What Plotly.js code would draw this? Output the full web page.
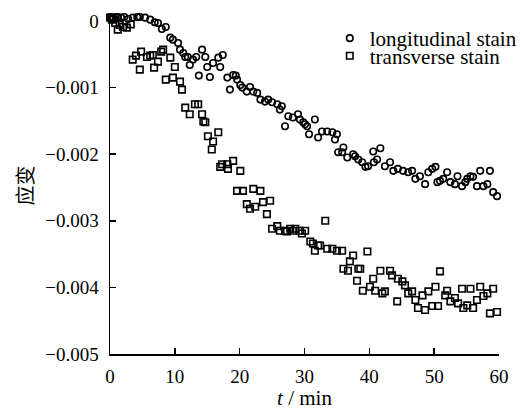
<!DOCTYPE html>
<html>
<head>
<meta charset="utf-8">
<script src="https://cdn.plot.ly/plotly-3.0.1.min.js"></script>
<style>html,body{margin:0;padding:0;background:#fff;}#chart{width:520px;height:410px;}</style>
</head>
<body>
<div id="chart"></div>
<script>
// longitudinal stain (circles)
const longT = [0.0,0.2,0.5,0.9,1.2,1.7,2.2,2.8,3.5,4.2,4.6,5.4,6.2,6.9,7.4,8.0,8.6,9.3,9.7,10.5,10.8,11.3,11.6,12.0,12.3,12.8,13.3,13.7,14.2,14.7,15.0,15.4,15.9,16.7,17.0,17.4,18.1,18.5,19.0,19.4,19.6,20.1,20.4,21.1,21.6,22.1,22.7,23.2,23.9,24.4,25.0,25.8,26.2,26.5,27.0,27.5,28.2,29.0,29.3,29.8,30.1,30.4,30.7,31.6,32.1,32.7,33.5,34.3,34.7,35.0,35.2,35.8,36.0,36.6,37.5,37.8,38.3,38.9,39.4,39.8,40.6,40.7,41.2,41.7,42.4,43.2,43.7,44.4,45.2,46.0,46.6,47.1,47.8,48.6,49.1,49.7,50.2,50.5,50.9,51.4,52.0,52.5,53.2,53.6,54.3,54.8,55.1,55.6,56.0,56.6,57.1,57.6,58.2,58.6,59.1,59.7];
const longV = [0.00006,0.00005,0.00005,0.00006,0.00006,0.00005,0.00006,0.00003,0.00005,0.00006,0.00006,0.00005,0.00002,-0.00002,-0.00003,-0.00012,-0.00009,-0.00025,-0.00028,-0.00033,-0.00043,-0.00048,-0.00054,-0.00054,-0.00066,-0.00058,-0.00054,-0.00082,-0.00043,-0.00054,-0.00069,-0.00084,-0.00063,-0.00055,-0.00069,-0.00051,-0.00085,-0.00103,-0.00081,-0.00082,-0.00088,-0.00096,-0.00100,-0.00106,-0.00099,-0.00106,-0.00108,-0.00118,-0.00121,-0.00118,-0.00122,-0.00125,-0.00133,-0.00128,-0.00158,-0.00143,-0.00145,-0.00140,-0.00148,-0.00152,-0.00155,-0.00158,-0.00170,-0.00148,-0.00175,-0.00166,-0.00166,-0.00167,-0.00178,-0.00170,-0.00197,-0.00197,-0.00190,-0.00205,-0.00200,-0.00203,-0.00208,-0.00212,-0.00219,-0.00218,-0.00196,-0.00212,-0.00208,-0.00191,-0.00218,-0.00212,-0.00225,-0.00222,-0.00225,-0.00227,-0.00225,-0.00237,-0.00233,-0.00245,-0.00227,-0.00222,-0.00219,-0.00242,-0.00240,-0.00237,-0.00227,-0.00242,-0.00245,-0.00233,-0.00248,-0.00242,-0.00237,-0.00233,-0.00234,-0.00248,-0.00225,-0.00248,-0.00245,-0.00225,-0.00257,-0.00263];
// transverse stain (squares)
const transT = [0.0,0.3,0.8,1.2,1.5,2.0,2.6,3.2,3.5,4.0,4.6,4.8,5.7,6.2,6.6,6.8,7.4,7.9,8.2,8.6,9.3,9.7,10.0,10.8,11.1,11.6,12.3,13.1,13.6,14.2,14.4,14.7,15.1,15.7,15.9,16.7,17.0,17.3,18.1,18.2,19.0,19.6,20.1,20.5,21.1,21.6,22.1,22.4,23.2,23.6,24.2,24.7,25.0,25.8,26.2,27.0,27.3,27.8,28.2,28.6,29.3,29.6,30.1,30.9,31.3,31.6,32.1,32.4,33.2,33.5,34.3,35.0,35.8,36.0,36.7,37.0,37.5,38.1,38.3,38.6,39.0,39.7,40.1,40.6,40.9,41.7,42.0,42.4,43.2,43.5,44.3,44.4,45.1,45.5,46.0,46.6,47.1,47.5,48.2,48.6,49.1,49.7,50.2,50.6,50.9,51.7,52.0,52.5,53.2,53.7,54.3,54.5,55.1,55.6,56.0,56.6,57.1,57.6,58.2,58.6,59.1,59.7];
const transV = [0.00005,0.00002,-0.00003,-0.00013,-0.00006,-0.00009,-0.00010,-0.00005,-0.00058,-0.00052,-0.00073,-0.00046,-0.00054,-0.00052,-0.00051,-0.00070,-0.00061,-0.00046,-0.00043,-0.00088,-0.00055,-0.00085,-0.00069,-0.00091,-0.00103,-0.00130,-0.00140,-0.00125,-0.00125,-0.00140,-0.00151,-0.00152,-0.00173,-0.00193,-0.00181,-0.00167,-0.00219,-0.00215,-0.00215,-0.00222,-0.00210,-0.00255,-0.00225,-0.00255,-0.00275,-0.00282,-0.00252,-0.00279,-0.00255,-0.00272,-0.00290,-0.00270,-0.00312,-0.00308,-0.00315,-0.00315,-0.00316,-0.00312,-0.00315,-0.00312,-0.00315,-0.00319,-0.00315,-0.00331,-0.00334,-0.00345,-0.00337,-0.00337,-0.00300,-0.00342,-0.00342,-0.00345,-0.00345,-0.00372,-0.00375,-0.00361,-0.00352,-0.00390,-0.00372,-0.00372,-0.00405,-0.00346,-0.00399,-0.00387,-0.00405,-0.00375,-0.00409,-0.00406,-0.00375,-0.00382,-0.00421,-0.00387,-0.00391,-0.00397,-0.00409,-0.00406,-0.00419,-0.00431,-0.00412,-0.00434,-0.00406,-0.00428,-0.00399,-0.00428,-0.00376,-0.00412,-0.00405,-0.00421,-0.00416,-0.00424,-0.00402,-0.00431,-0.00427,-0.00402,-0.00431,-0.00419,-0.00399,-0.00413,-0.00409,-0.00439,-0.00402,-0.00437];

const xTickVals = [0,10,20,30,40,50,60];
const xTickText = ['0','10','20','30','40','50','60'];
const yTickVals = [0,-0.001,-0.002,-0.003,-0.004,-0.005];
const yTickText = ['0','\u22120.001','\u22120.002','\u22120.003','\u22120.004','\u22120.005'];
const seriesNames = ['longitudinal stain','transverse stain'];

const serif = '"Liberation Serif", "Times New Roman", "DejaVu Serif", serif';

const traces = [
  {x: longT, y: longV, type: 'scatter', mode: 'markers', name: seriesNames[0], legend: 'legend',
   cliponaxis: false,
   marker: {symbol: 'circle-open', size: 6.5, color: '#000', line: {width: 1.6, color: '#000'}}},
  {x: transT, y: transV, type: 'scatter', mode: 'markers', name: seriesNames[1], legend: 'legend2',
   cliponaxis: false,
   marker: {symbol: 'square-open', size: 6.5, color: '#000', line: {width: 1.6, color: '#000'}}}
];

const layout = {
  width: 520, height: 410,
  margin: {l: 110, r: 21, t: 17, b: 56, autoexpand: false},
  paper_bgcolor: '#fff', plot_bgcolor: '#fff',
  font: {family: serif, size: 19, color: '#000'},
  xaxis: {
    range: [0, 60], tickvals: xTickVals, ticktext: xTickText,
    showline: true, linecolor: '#000', linewidth: 1.5, mirror: false,
    ticks: 'inside', ticklen: 6, tickwidth: 1.5, tickcolor: '#000',
    showgrid: false, zeroline: false, ticklabelstandoff: 5, automargin: false,
    tickfont: {family: serif, size: 19, color: '#000'},
    title: {text: '<i>t</i> / min', font: {family: serif, size: 21, color: '#000'}, standoff: 2}
  },
  yaxis: {
    range: [-0.005, 0.00006], tickvals: yTickVals, ticktext: yTickText,
    showline: true, linecolor: '#000', linewidth: 1.5, mirror: false,
    ticks: 'inside', ticklen: 6, tickwidth: 1.5, tickcolor: '#000',
    showgrid: false, zeroline: false, ticklabelstandoff: 6, automargin: false,
    tickfont: {family: serif, size: 19, color: '#000'},
    title: {text: '应变', font: {family: '"Noto Sans CJK SC", sans-serif', size: 20, color: '#000'}, standoff: 6}
  },
  legend: {x: 0.565, y: 0.997, xanchor: 'left', yanchor: 'top', bgcolor: 'rgba(0,0,0,0)',
           font: {family: serif, size: 21, color: '#000'}, itemwidth: 30},
  legend2: {x: 0.565, y: 0.945, xanchor: 'left', yanchor: 'top', bgcolor: 'rgba(0,0,0,0)',
           font: {family: serif, size: 21, color: '#000'}, itemwidth: 30},
  showlegend: true
};

Plotly.newPlot('chart', traces, layout, {displayModeBar: false, staticPlot: true});
</script>
</body>
</html>
